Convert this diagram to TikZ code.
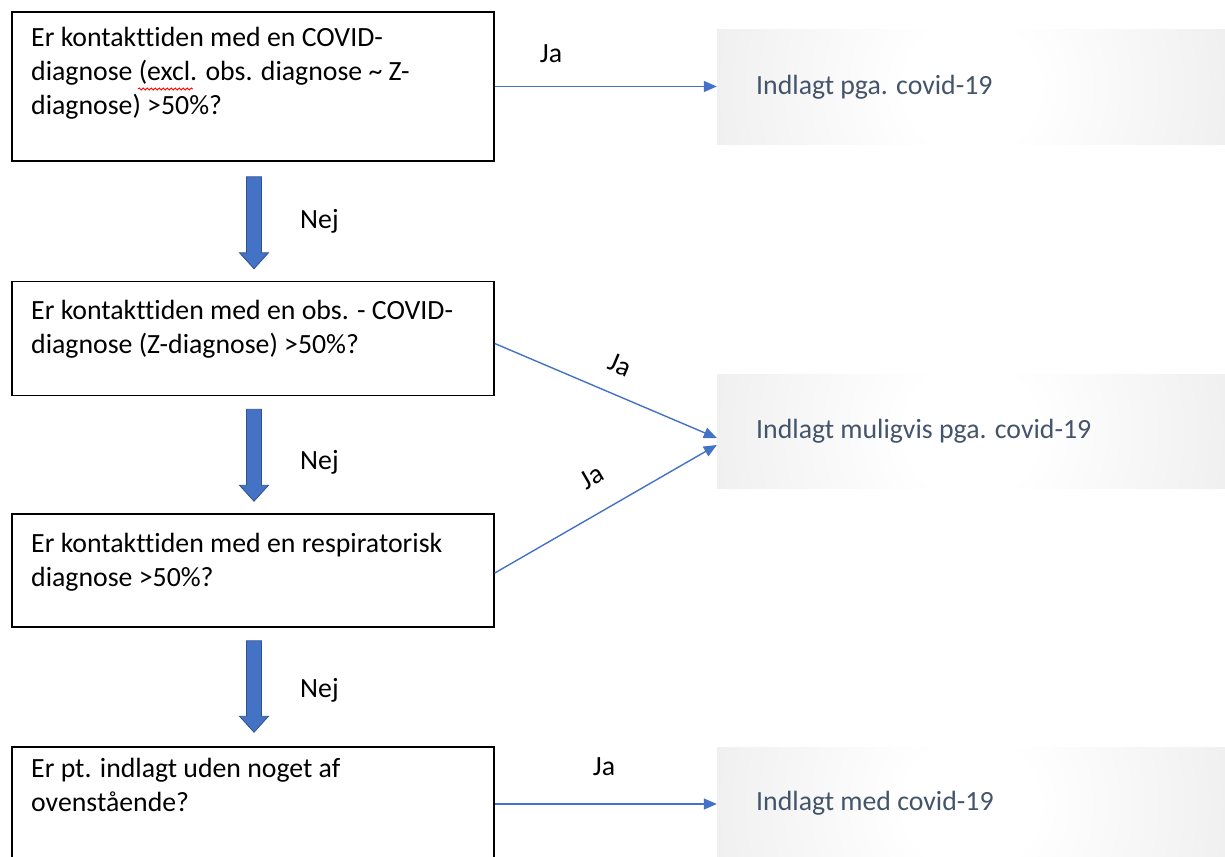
\documentclass[tikz,border=0pt]{standalone}
\usepackage{fontspec}
\setmainfont{Carlito}[Ligatures=NoCommon]
\usetikzlibrary{arrows.meta,calc,decorations.pathmorphing}
\definecolor{accent}{HTML}{4472C4}
\definecolor{accentdark}{HTML}{2F528F}
\definecolor{restext}{HTML}{44546A}
\definecolor{resedge}{RGB}{218,218,220}
\pgfdeclareradialshading{resshade}{\pgfpoint{0bp}{0bp}}{color(0bp)=(white); color(6bp)=(white); color(50bp)=(resedge)}
\newcommand\qfont{\fontsize{27.8}{34}\selectfont}
\newcommand\qtxt[1]{\parbox[t]{480pt}{\raggedright #1}}
\newcommand\blockarr[2]{%
  \draw[blockarrow] let \p1=(#1), \p2=(#2) in
    (\x1-7.5pt,\y1) -- (\x1+7.5pt,\y1) -- (\x1+7.5pt,\y2+16pt) -- (\x1+14.5pt,\y2+16pt)
    -- (\x1,\y2) -- (\x1-14.5pt,\y2+16pt) -- (\x1-7.5pt,\y2+16pt) -- cycle;}
\begin{document}
\begin{tikzpicture}[x=1pt,y=-1pt,
  qbox/.style={draw=black, line width=1.5pt, rectangle, minimum width=482pt, inner sep=0pt},
  qtext/.style={anchor=base west, inner sep=0pt, font=\qfont, text=black},
  resbox/.style={rectangle, minimum width=508pt, minimum height=114pt, inner sep=0pt,
    path picture={\shade[shading=resshade] (path picture bounding box.center) circle (270pt);}},
  restxt/.style={anchor=base west, inner sep=0pt, font=\qfont, text=restext},
  lbl/.style={inner sep=0pt, font=\qfont, text=black},
  conn/.style={draw=accent, line width=1.4pt, -{Triangle[length=13pt,width=11pt]}},
  blockarrow/.style={fill=accent, draw=accentdark, line width=0.8pt}]
\useasboundingbox (0,0) rectangle (1225,856);
\clip (0,0) rectangle (1225,856);

% question boxes
\node[qbox, minimum height=149pt] (b1) at (253,86.5) {};
\node[qbox, minimum height=114pt] (b2) at (253,338.5) {};
\node[qbox, minimum height=113pt] (b3) at (253,570.5) {};
\node[qbox, minimum height=114pt] (b4) at (253,804) {};

\node[qtext] (t1) at (31,47) {\qtxt{Er kontakttiden med en COVID-\\diagnose (excl. obs. diagnose \textasciitilde{} Z-\\diagnose) >50\%?}};
\node[qtext] (t2) at (31,319) {\qtxt{Er kontakttiden med en obs. - COVID-\\diagnose (Z-diagnose) >50\%?}};
\node[qtext] (t3) at (31,552) {\qtxt{Er kontakttiden med en respiratorisk\\diagnose >50\%?}};
\node[qtext] (t4) at (31,777) {\qtxt{Er pt. indlagt uden noget af\\ovenstående?}};

% spell-check underline
\draw[red, line width=0.8pt, decorate, decoration={snake, amplitude=1.1pt, segment length=4pt}] (138,89) -- (193,89);

% result boxes
\node[resbox] (r1) at (971,87) {};
\node[resbox] (r2) at (971,431) {};
\node[resbox] (r3) at (971,804) {};
\node[restxt] (rt1) at (756,95) {Indlagt pga. covid-19};
\node[restxt] (rt2) at (756,438) {Indlagt muligvis pga. covid-19};
\node[restxt] (rt3) at (756,810) {Indlagt med covid-19};

% block arrows (Nej)
\coordinate (a1t) at ($(b1.south)+(1,15)$);
\coordinate (a1b) at ($(b2.north)+(1,-12)$);
\coordinate (a2t) at ($(b2.south)+(1,13)$);
\coordinate (a2b) at ($(b3.north)+(1,-12)$);
\coordinate (a3t) at ($(b3.south)+(1,13)$);
\coordinate (a3b) at ($(b4.north)+(1,-14)$);
\blockarr{a1t}{a1b}
\blockarr{a2t}{a2b}
\blockarr{a3t}{a3b}
\node[lbl, anchor=base west] (n1) at (300,228) {Nej};
\node[lbl, anchor=base west] (n2) at (300,469) {Nej};
\node[lbl, anchor=base west] (n3) at (300,697) {Nej};

% Ja connectors
\draw[conn] (b1.east) -- (b1.east -| r1.west);
\draw[conn] ($(b2.east)+(0,5)$) -- ($(r2.west)+(0,7)$);
\draw[conn] ($(b3.east)+(0,2.5)$) -- ($(r2.west)+(0,14)$);
\draw[conn] (b4.east) -- (b4.east -| r3.west);
\node[lbl, anchor=base] (j1) at (551,63) {Ja};
\node[lbl, rotate=-23] (j2) at (620,365) {Ja};
\node[lbl, rotate=30] (j3) at (592,477) {Ja};
\node[lbl, anchor=base] (j4) at (604,775) {Ja};
\end{tikzpicture}
\end{document}
